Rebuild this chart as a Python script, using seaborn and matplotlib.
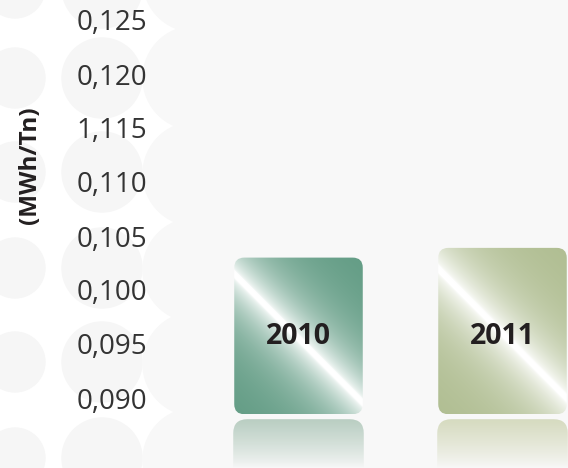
import numpy as np
import pandas as pd
import matplotlib.pyplot as plt
import seaborn as sns
from matplotlib.patches import FancyBboxPatch, Circle, Rectangle
from matplotlib.colors import to_rgb

# data
years = ['2010', '2011']
values = [0.1030, 0.1039]
base = 0.0885
tick_values = [0.125, 0.120, 0.115, 0.110, 0.105, 0.100, 0.095, 0.090]
tick_labels = ['0,125', '0,120', '1,115', '0,110', '0,105', '0,100', '0,095', '0,090']
bar_colors = ['#5f9a82', '#aebc8f']
mirror_colors = ['#b9cec2', '#d6dbc0']
unit_label = '(MWh/Tn)'

sns.set_style('white')
plt.rcParams['font.family'] = ['Open Sans', 'DejaVu Sans']

W, H = 568, 468
fig = plt.figure(figsize=(W / 100, H / 100), dpi=100)
fig.patch.set_facecolor('white')

# faint circle pattern in the background (figure pixels)
bg = '#f8f8f8'
px = lambda x, y: (x / 100, (H - y) / 100)
fig.add_artist(Rectangle(px(250, H), (W - 250) / 100, H / 100, color=bg,
                         transform=fig.dpi_scale_trans, zorder=-2))
for cx, r in [(15, 30), (102, 40)]:
    for cy in [-12, 78, 172, 268, 362, 458]:
        fig.add_artist(Circle(px(cx, cy), r / 100, color='#f6f6f6',
                              transform=fig.dpi_scale_trans, zorder=-2))
for cy in [-20, 78, 174, 270, 364, 460]:
    fig.add_artist(Circle(px(195, cy), 52 / 100, color=bg,
                          transform=fig.dpi_scale_trans, zorder=-2))
for cy in [30, 125, 222, 318, 412]:
    fig.add_artist(Circle(px(255, cy), 55 / 100, color=bg,
                          transform=fig.dpi_scale_trans, zorder=-2))

left = 160
ax = fig.add_axes([left / W, 0, (W - left) / W, 1])
ax.set_facecolor('none')

df = pd.DataFrame({'year': years, 'height': np.array(values) - base})
sns.barplot(data=df, x='year', y='height', width=0.63, color='grey', ax=ax)

# scales: 204 px between categories, 54 px per 0.005
x_lo = (left - 298.5) / 204
x_hi = (W - 298.5) / 204
y_top = 0.125 + 20 / 54 * 0.005 - base
y_bot = 0.125 - (H - 20) / 54 * 0.005 - base
ax.set_xlim(x_lo, x_hi)
ax.set_ylim(y_bot, y_top)

ax.set_yticks(np.array(tick_values) - base)
ax.set_yticklabels(tick_labels)
ax.set_xticks([])
ax.set_xlabel('')
ax.set_ylabel('')
ax.tick_params(axis='y', length=0, pad=9.5, labelsize=20, labelcolor='#333333')
sns.despine(ax=ax, left=True, bottom=True)

xu = (x_hi - x_lo) / (W - left)   # x units per pixel
yu = (y_top - y_bot) / H          # y units per pixel
aspect = yu / xu
rnd = 10 * xu

for i, p in enumerate(list(ax.patches)):
    p.set_visible(False)
    x0, w, h = p.get_x(), p.get_width(), p.get_height()
    wp, hp = int(round(w / xu)), int(round(h / yu))
    # diagonal metallic gradient
    u = np.linspace(0, 1, wp)[None, :]
    v = np.linspace(1, 0, hp)[:, None]
    t = (u * wp + v * hp) / (wp + hp)
    d = np.abs(t - 0.49)
    f = np.exp(-d / 0.15)
    f = np.clip(f + 0.25 * np.exp(-(d / 0.012) ** 2), 0, 1)
    c = np.array(to_rgb(bar_colors[i]))
    img = c[None, None, :] * (1 - f[..., None]) + f[..., None]
    clip = FancyBboxPatch((x0, 0), w, h, boxstyle=f'round,pad=0,rounding_size={rnd}',
                          mutation_aspect=aspect, transform=ax.transData,
                          facecolor='none', edgecolor='none')
    ax.add_patch(clip)
    im = ax.imshow(img, extent=(x0, x0 + w, 0, h), aspect='auto',
                   interpolation='bilinear', zorder=2)
    im.set_clip_path(clip)

    # reflection
    gap = 5 * yu
    mtop = -gap
    mh = mtop - y_bot
    n = 60
    a = np.linspace(1, 0, n) ** 0.8
    a = a[:, None, None]
    mc = np.array(to_rgb(mirror_colors[i]))
    bgc = np.array(to_rgb(bg))
    mimg = mc * a + bgc * (1 - a)
    mimg = np.repeat(mimg, 4, axis=1)
    mclip = FancyBboxPatch((x0 - 1 * xu, y_bot - 30 * yu), w + 2 * xu, mh + 30 * yu,
                           boxstyle=f'round,pad=0,rounding_size={rnd * 1.4}',
                           mutation_aspect=aspect, transform=ax.transData,
                           facecolor='none', edgecolor='none')
    ax.add_patch(mclip)
    mim = ax.imshow(mimg, extent=(x0 - 1 * xu, x0 + w + 1 * xu, y_bot, mtop),
                    aspect='auto', interpolation='bilinear', zorder=2)
    mim.set_clip_path(mclip)

    ax.text(x0 + w / 2, 0.0957 - base, years[i], ha='center', va='center',
            fontsize=20.5, fontweight='bold', color='#231f20', zorder=3)

ax.set_xlim(x_lo, x_hi)
ax.set_ylim(y_bot, y_top)

fig.text(30 / W, 1 - 165 / H, unit_label, rotation=90, ha='center', va='center',
         fontsize=17.5, fontweight='bold', color='#231f20')

fig.savefig('out.png', dpi=100)
